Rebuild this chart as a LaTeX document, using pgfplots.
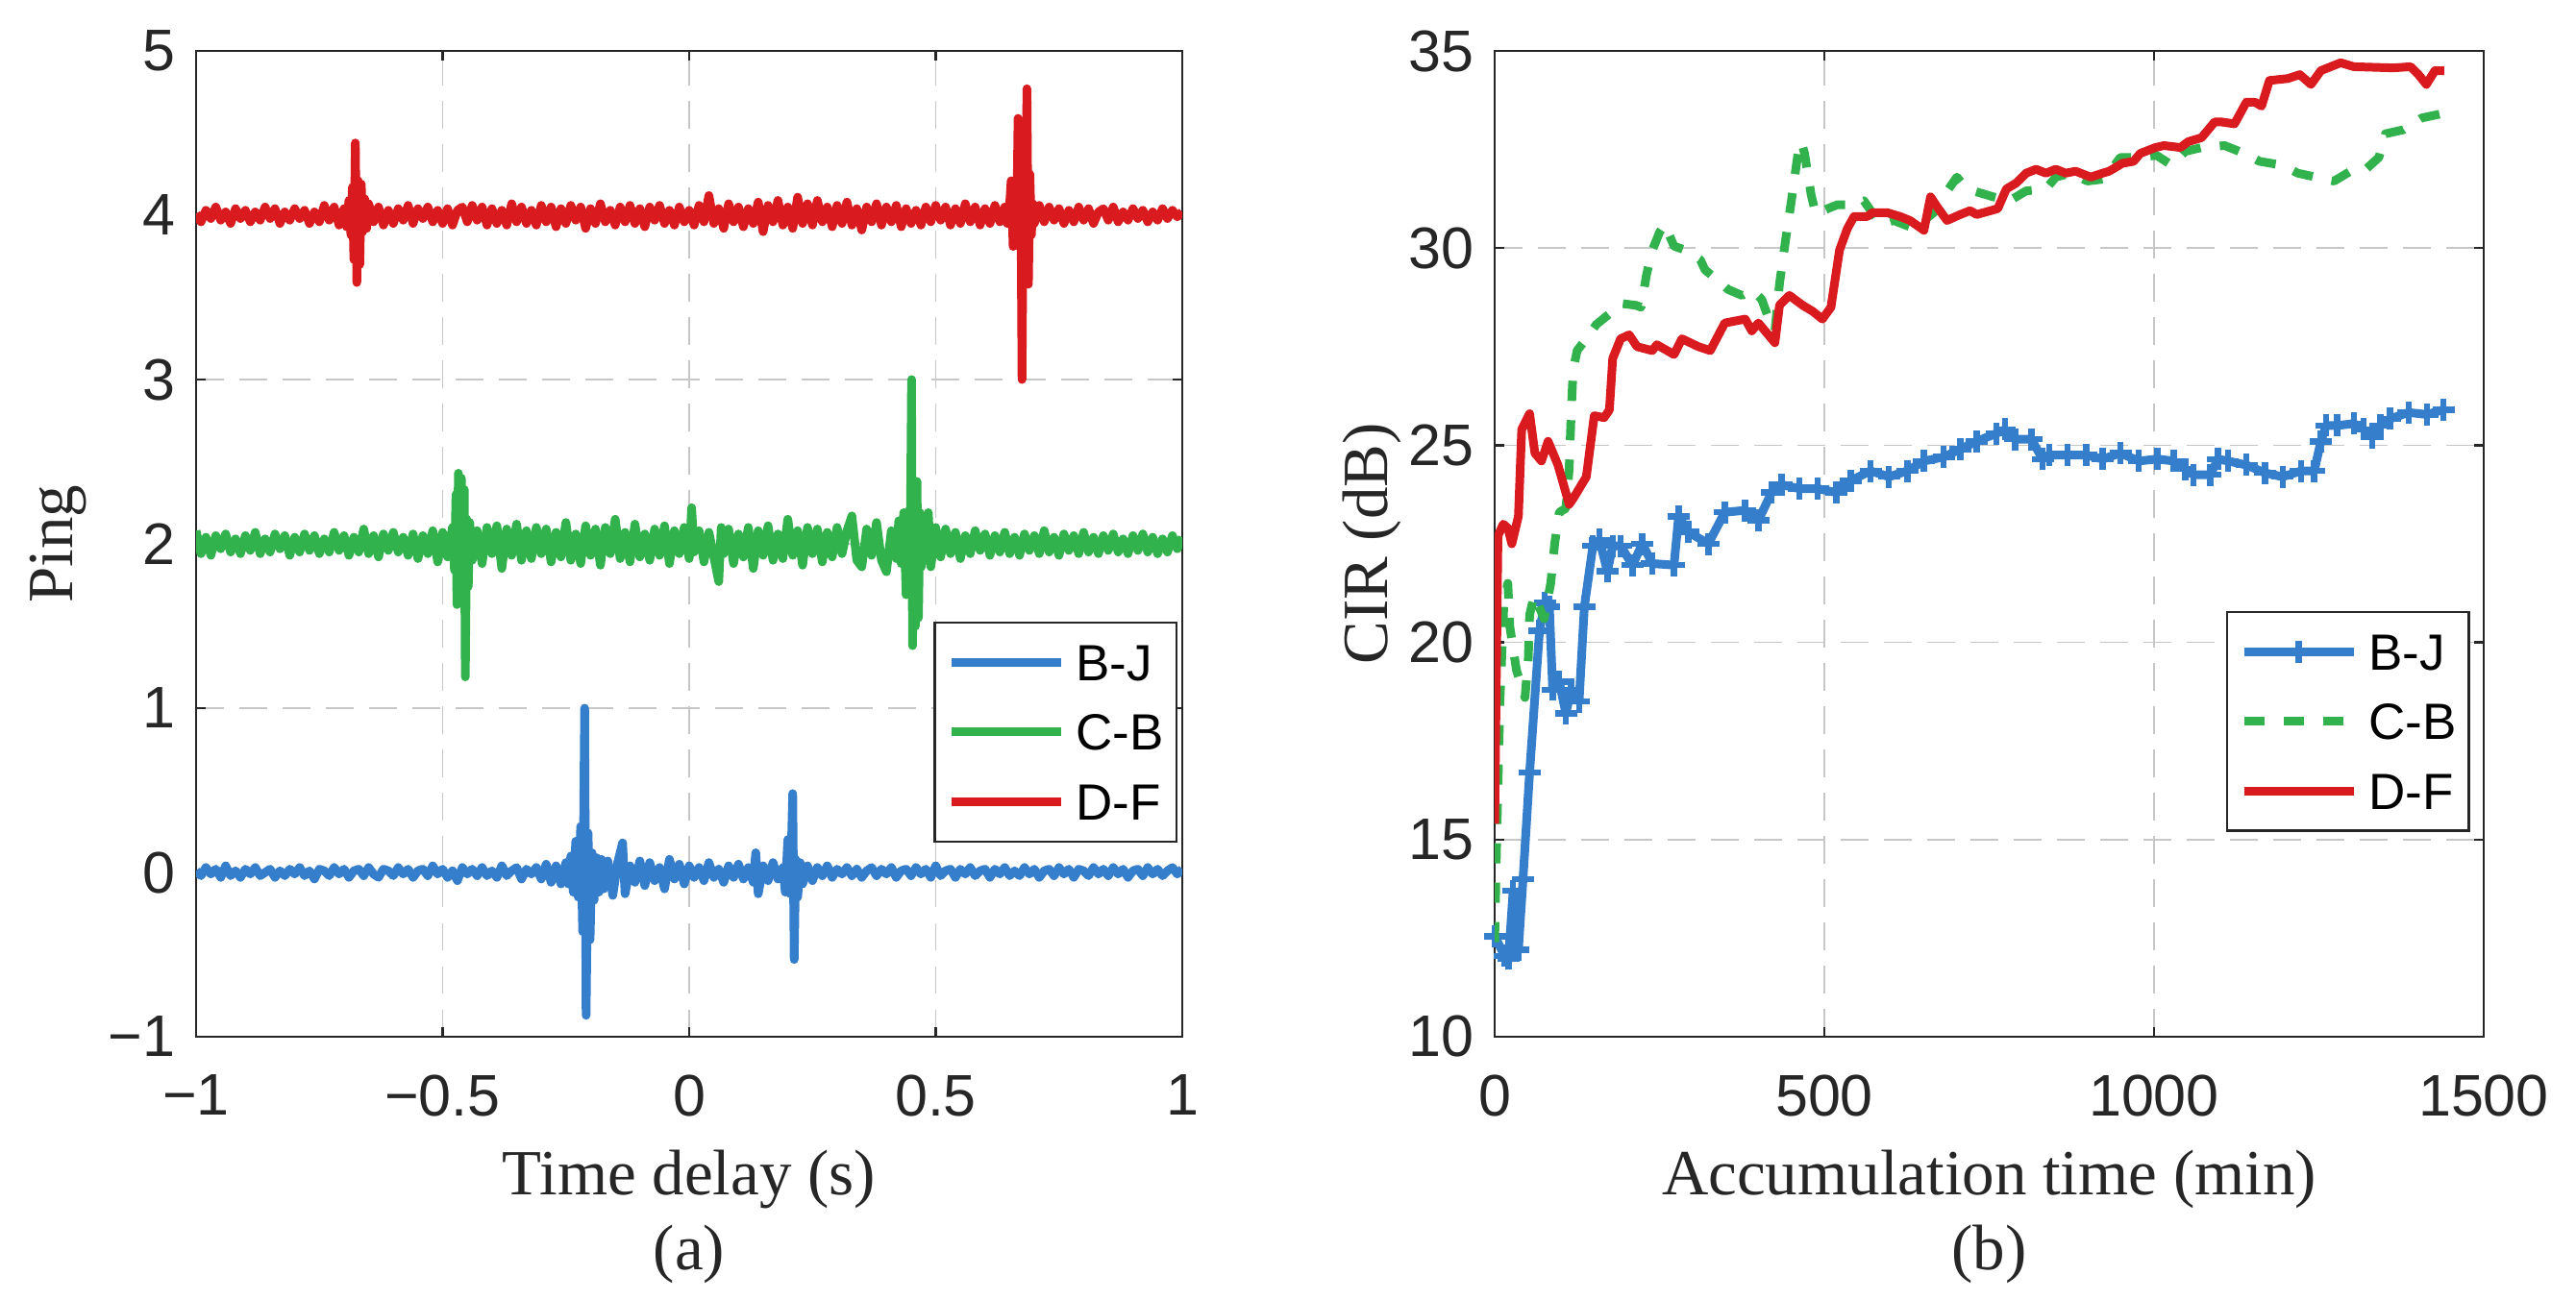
\documentclass[border=0pt]{standalone}
\usepackage{fontspec}
\setmainfont{Liberation Sans}
\newfontfamily\serifx{Liberation Serif}
\usepackage{pgfplots}
\usepackage{pgfplotstable}
\pgfplotsset{compat=1.18}
\definecolor{cblue}{RGB}{52,126,204}
\definecolor{cgreen}{RGB}{50,178,76}
\definecolor{cred}{RGB}{217,26,30}
\definecolor{axc}{RGB}{38,38,38}

\pgfplotstableread{
x y
-1.00 0.01
-0.99 -0.02
-0.98 0.03
-0.97 -0.01
-0.96 0.02
-0.95 -0.03
-0.94 0.04
-0.93 -0.02
-0.92 0.01
-0.91 -0.03
-0.90 0.02
-0.89 -0.01
-0.88 0.03
-0.87 -0.02
-0.86 0.00
-0.85 0.02
-0.84 -0.03
-0.83 0.01
-0.82 -0.02
-0.81 0.02
-0.80 -0.01
-0.79 0.03
-0.78 -0.02
-0.77 0.01
-0.76 -0.04
-0.75 0.02
-0.74 0.01
-0.73 -0.02
-0.72 0.03
-0.71 -0.01
-0.70 0.02
-0.69 -0.03
-0.68 0.01
-0.67 0.02
-0.66 -0.02
-0.65 0.03
-0.64 -0.01
-0.63 -0.03
-0.62 0.02
-0.61 0.01
-0.60 -0.02
-0.59 0.03
-0.58 -0.01
-0.57 0.02
-0.56 -0.03
-0.55 0.01
-0.54 0.02
-0.53 -0.02
-0.52 0.04
-0.51 -0.01
-0.50 0.02
-0.49 -0.03
-0.48 0.01
-0.47 -0.05
-0.46 0.03
-0.45 -0.01
-0.44 0.02
-0.43 -0.02
-0.42 0.03
-0.41 -0.02
-0.40 0.01
-0.39 -0.03
-0.38 0.04
-0.37 -0.02
-0.36 0.01
-0.35 0.03
-0.34 -0.04
-0.33 0.02
-0.32 -0.01
-0.31 0.03
-0.30 -0.04
-0.29 0.05
-0.28 -0.06
-0.27 0.04
-0.26 -0.07
-0.25 0.06
-0.245 -0.07
-0.24 0.10
-0.235 -0.12
-0.23 0.19
-0.225 -0.15
-0.22 0.28
-0.216 -0.36
-0.212 1.00
-0.209 -0.87
-0.205 0.24
-0.201 -0.41
-0.197 0.12
-0.193 -0.17
-0.188 0.09
-0.183 -0.12
-0.178 0.08
-0.173 -0.10
-0.165 0.07
-0.155 -0.14
-0.145 0.06
-0.135 0.18
-0.13 -0.13
-0.12 0.04
-0.11 -0.06
-0.10 0.07
-0.09 -0.08
-0.08 0.06
-0.07 -0.05
-0.06 0.03
-0.05 -0.10
-0.04 0.08
-0.03 -0.04
-0.02 0.05
-0.01 -0.07
0.00 0.04
0.01 -0.03
0.02 0.03
0.03 -0.05
0.04 0.06
0.05 -0.03
0.06 0.02
0.07 -0.06
0.08 0.04
0.09 -0.03
0.10 0.05
0.11 -0.04
0.12 0.03
0.13 -0.06
0.135 0.12
0.14 -0.13
0.15 0.04
0.16 -0.05
0.17 0.06
0.18 -0.04
0.19 0.03
0.195 -0.12
0.20 0.20
0.205 -0.13
0.21 0.48
0.213 -0.53
0.216 0.08
0.22 -0.15
0.225 0.06
0.23 -0.07
0.24 0.04
0.25 -0.05
0.26 0.03
0.27 -0.02
0.28 0.04
0.29 -0.03
0.30 0.02
0.31 -0.01
0.32 0.03
0.33 -0.02
0.34 0.02
0.35 -0.03
0.36 0.01
0.37 0.03
0.38 -0.02
0.39 0.02
0.40 -0.01
0.41 0.03
0.42 -0.03
0.43 0.01
0.44 0.02
0.45 -0.02
0.46 0.03
0.47 -0.01
0.48 0.02
0.49 -0.03
0.50 0.04
0.51 -0.02
0.52 0.01
0.53 0.02
0.54 -0.03
0.55 0.02
0.56 -0.01
0.57 0.03
0.58 -0.02
0.59 0.01
0.60 0.02
0.61 -0.03
0.62 0.02
0.63 -0.01
0.64 0.03
0.65 -0.02
0.66 0.01
0.67 -0.02
0.68 0.03
0.69 -0.01
0.70 0.02
0.71 -0.03
0.72 0.01
0.73 0.02
0.74 -0.02
0.75 0.03
0.76 -0.01
0.77 0.02
0.78 -0.03
0.79 0.02
0.80 0.01
0.81 -0.02
0.82 0.03
0.83 -0.01
0.84 0.02
0.85 -0.02
0.86 0.03
0.87 -0.01
0.88 0.02
0.89 -0.03
0.90 0.01
0.91 0.02
0.92 -0.02
0.93 0.03
0.94 -0.01
0.95 0.02
0.96 -0.02
0.97 0.01
0.98 0.03
0.99 -0.01
1.00 0.02
}\bj

\pgfplotstableread{
x y
-1.00 2.08
-0.99 1.94
-0.98 2.04
-0.97 1.93
-0.96 2.05
-0.95 1.97
-0.94 2.06
-0.93 1.95
-0.92 2.03
-0.91 1.94
-0.90 2.05
-0.89 1.96
-0.88 2.07
-0.87 1.94
-0.86 2.03
-0.85 1.95
-0.84 2.06
-0.83 1.97
-0.82 2.05
-0.81 1.93
-0.80 2.04
-0.79 1.95
-0.78 2.06
-0.77 1.96
-0.76 2.05
-0.75 1.94
-0.74 2.03
-0.73 1.95
-0.72 2.07
-0.71 1.96
-0.70 2.05
-0.69 1.93
-0.68 2.04
-0.67 1.95
-0.66 2.09
-0.65 1.94
-0.64 2.05
-0.63 1.92
-0.62 2.06
-0.61 1.96
-0.60 2.07
-0.59 1.95
-0.58 2.04
-0.57 1.93
-0.56 2.06
-0.55 1.91
-0.54 2.05
-0.53 1.94
-0.52 2.08
-0.51 1.89
-0.50 2.07
-0.49 1.92
-0.48 2.10
-0.476 1.84
-0.473 2.30
-0.471 1.63
-0.468 2.43
-0.465 1.65
-0.462 2.40
-0.459 1.80
-0.456 2.33
-0.454 1.19
-0.451 2.15
-0.448 1.74
-0.445 2.13
-0.44 1.90
-0.43 2.08
-0.42 1.88
-0.41 2.10
-0.40 1.94
-0.39 2.11
-0.38 1.85
-0.37 2.09
-0.36 1.93
-0.35 2.12
-0.34 1.90
-0.33 2.08
-0.32 1.91
-0.31 2.10
-0.30 1.94
-0.29 2.09
-0.28 1.89
-0.27 2.07
-0.26 1.92
-0.25 2.13
-0.24 1.90
-0.23 2.06
-0.22 1.88
-0.21 2.11
-0.20 1.93
-0.19 2.09
-0.18 1.87
-0.17 2.10
-0.16 1.94
-0.15 2.15
-0.14 1.91
-0.13 2.07
-0.12 1.89
-0.11 2.12
-0.10 1.92
-0.09 2.06
-0.08 1.90
-0.07 2.09
-0.06 1.93
-0.05 2.11
-0.04 1.88
-0.03 2.08
-0.02 1.94
-0.01 2.10
0.00 1.91
0.005 2.22
0.01 1.95
0.02 2.08
0.03 1.89
0.04 2.07
0.05 1.92
0.06 1.77
0.065 2.10
0.07 1.94
0.08 2.09
0.09 1.88
0.10 2.06
0.11 1.92
0.12 2.10
0.13 1.85
0.14 2.08
0.15 1.93
0.16 2.11
0.17 1.90
0.18 2.06
0.19 1.91
0.20 2.15
0.21 1.93
0.22 2.08
0.23 1.87
0.24 2.10
0.25 1.94
0.26 2.09
0.27 1.89
0.28 2.07
0.29 1.92
0.30 2.10
0.31 1.94
0.32 2.08
0.33 2.17
0.34 1.90
0.35 1.86
0.36 2.09
0.37 1.93
0.38 2.13
0.39 1.90
0.40 1.83
0.41 2.08
0.42 1.91
0.425 2.14
0.43 1.88
0.435 2.19
0.44 1.69
0.445 2.20
0.448 1.86
0.451 3.00
0.453 1.38
0.456 2.32
0.459 1.50
0.462 2.38
0.465 1.55
0.468 2.19
0.471 1.86
0.475 2.12
0.48 1.90
0.485 2.19
0.49 1.86
0.50 2.10
0.51 1.92
0.52 2.09
0.53 1.94
0.54 2.07
0.55 1.91
0.56 2.05
0.57 1.94
0.58 2.08
0.59 1.96
0.60 2.06
0.61 1.93
0.62 2.05
0.63 1.95
0.64 2.07
0.65 1.94
0.66 2.04
0.67 1.93
0.68 2.06
0.69 1.96
0.70 2.05
0.71 1.94
0.72 2.08
0.73 1.95
0.74 2.04
0.75 1.93
0.76 2.06
0.77 1.96
0.78 2.05
0.79 1.94
0.80 2.07
0.81 1.95
0.82 2.04
0.83 1.94
0.84 2.05
0.85 1.96
0.86 2.06
0.87 1.95
0.88 2.03
0.89 1.94
0.90 2.05
0.91 1.96
0.92 2.06
0.93 1.95
0.94 2.04
0.95 1.94
0.96 2.03
0.97 1.95
0.98 2.05
0.99 1.97
1.00 2.04
}\cb

\pgfplotstableread{
x y
-1.00 4.01
-0.99 3.96
-0.98 4.03
-0.97 3.98
-0.96 4.05
-0.95 3.97
-0.94 4.02
-0.93 3.95
-0.92 4.04
-0.91 3.98
-0.90 4.03
-0.89 3.96
-0.88 4.02
-0.87 3.97
-0.86 4.05
-0.85 3.98
-0.84 4.04
-0.83 3.95
-0.82 4.02
-0.81 3.97
-0.80 4.04
-0.79 3.98
-0.78 4.03
-0.77 3.95
-0.76 4.02
-0.75 3.96
-0.74 4.06
-0.73 3.97
-0.72 4.05
-0.71 3.94
-0.70 4.04
-0.695 3.93
-0.69 4.09
-0.686 3.88
-0.683 4.17
-0.680 3.73
-0.677 4.44
-0.674 3.59
-0.671 4.21
-0.668 3.70
-0.665 4.19
-0.662 3.90
-0.658 4.10
-0.654 3.92
-0.65 4.07
-0.64 3.96
-0.63 4.05
-0.62 3.94
-0.61 4.03
-0.60 3.95
-0.59 4.04
-0.58 3.97
-0.57 4.06
-0.56 3.95
-0.55 4.04
-0.54 3.98
-0.53 4.05
-0.52 3.96
-0.51 4.03
-0.50 3.95
-0.49 4.04
-0.48 3.94
-0.47 4.03
-0.46 4.05
-0.45 3.96
-0.44 4.06
-0.43 3.97
-0.42 4.05
-0.41 3.94
-0.40 4.04
-0.39 3.95
-0.38 4.03
-0.37 3.94
-0.36 4.07
-0.35 3.96
-0.34 4.05
-0.33 3.95
-0.32 4.03
-0.31 3.94
-0.30 4.06
-0.29 3.96
-0.28 4.05
-0.27 3.93
-0.26 4.04
-0.25 3.95
-0.24 4.06
-0.23 3.97
-0.22 4.05
-0.21 3.92
-0.20 4.04
-0.19 3.95
-0.18 4.07
-0.17 3.96
-0.16 4.03
-0.15 3.94
-0.14 4.05
-0.13 3.96
-0.12 4.06
-0.11 3.95
-0.10 4.04
-0.09 3.93
-0.08 4.05
-0.07 3.97
-0.06 4.06
-0.05 3.95
-0.04 4.03
-0.03 3.94
-0.02 4.05
-0.01 3.96
0.00 4.03
0.01 3.94
0.02 4.06
0.03 3.96
0.04 4.12
0.05 3.95
0.06 4.04
0.07 3.92
0.08 4.07
0.09 3.96
0.10 4.05
0.11 3.93
0.12 4.04
0.13 3.95
0.14 4.08
0.15 3.90
0.16 4.06
0.17 3.96
0.18 4.09
0.19 3.94
0.20 4.05
0.21 3.92
0.22 4.11
0.23 3.95
0.24 4.07
0.25 3.94
0.26 4.09
0.27 3.96
0.28 4.05
0.29 3.93
0.30 4.06
0.31 3.95
0.32 4.08
0.33 3.94
0.34 4.04
0.35 3.91
0.36 4.05
0.37 3.96
0.38 4.07
0.39 3.94
0.40 4.05
0.41 3.96
0.42 4.06
0.43 3.93
0.44 4.04
0.45 3.95
0.46 4.03
0.47 3.94
0.48 4.05
0.49 3.96
0.50 4.06
0.51 3.97
0.52 4.05
0.53 3.94
0.54 4.04
0.55 3.95
0.56 4.07
0.57 3.96
0.58 4.05
0.59 3.94
0.60 4.04
0.61 3.95
0.62 4.06
0.63 3.96
0.64 4.05
0.645 3.95
0.65 4.07
0.653 4.21
0.657 3.81
0.661 4.15
0.664 3.88
0.667 4.59
0.670 3.81
0.672 4.45
0.675 3.00
0.678 4.30
0.682 3.80
0.685 4.77
0.688 3.58
0.691 4.25
0.694 3.88
0.697 4.07
0.70 3.95
0.71 4.06
0.72 3.96
0.73 4.05
0.74 3.97
0.75 4.04
0.76 3.95
0.77 4.03
0.78 3.96
0.79 4.05
0.80 3.97
0.81 4.04
0.82 3.95
0.83 4.02
0.84 4.04
0.85 3.97
0.86 4.05
0.87 3.96
0.88 4.02
0.89 3.97
0.90 4.04
0.91 3.98
0.92 4.03
0.93 3.96
0.94 4.02
0.95 3.97
0.96 4.04
0.97 3.98
0.98 4.03
0.99 3.99
1.00 4.02
}\df

\pgfplotsset{
  mystyle/.style={
    scale only axis, width=205.2pt, height=205.2pt, anchor=south west,
    clip mode=individual,
    axis line style={draw=axc, line width=0.45pt},
    tick style={draw=axc, line width=0.45pt},
    tick align=inside, major tick length=2pt,
    grid=major,
    major grid style={draw=black!22, line width=0.35pt, dash pattern=on 5.7pt off 3.3pt},
    tick label style={font=\fontsize{12.2}{14}\selectfont, text=axc},
    xticklabel style={anchor=north, inner sep=0pt, yshift=-7.8pt},
    yticklabel style={anchor=east, inner sep=0pt, xshift=-4.2pt},
    label style={font=\serifx\fontsize{13.4}{16}\selectfont, text=axc},
    xlabel style={at={(axis description cs:0.5,-0.1603)}, anchor=base},
    legend cell align=left,
    legend style={draw=axc, line width=0.45pt, fill=white, anchor=north east,
      font=\fontsize{10.6}{12.7}\selectfont, inner xsep=2.6pt, inner ysep=1pt,
      row sep=0pt, column sep=2.2pt,
      nodes={inner xsep=0pt, inner ysep=1.85pt, text height=9.2pt, text depth=1.6pt}},
    legend image code/.code={\draw[mark repeat=2,mark phase=2,##1] plot coordinates {(0pt,0pt) (11.4pt,0pt) (22.8pt,0pt)};},
  }
}

\begin{document}
\begin{tikzpicture}
\useasboundingbox (0,0) rectangle (536pt,270.6pt);
\begin{axis}[mystyle, at={(40.8pt,54.8pt)},
  xmin=-1, xmax=1, ymin=-1, ymax=5,
  xtick={-1,-0.5,0,0.5,1}, xticklabels={−1,−0.5,0,0.5,1},
  ytick={-1,0,1,2,3,4,5}, yticklabels={−1,0,1,2,3,4,5},
  xlabel={Time delay (s)}, ylabel={Ping},
  ylabel style={at={(axis description cs:-0.1248,0.5)}, anchor=base},
  legend style={at={(axis description cs:0.995,0.421)}},
]
\addplot[cblue, line width=1.8pt, line join=round] table {\bj};
\addlegendentry{B-J}
\addplot[cgreen, line width=1.8pt, line join=round] table {\cb};
\addlegendentry{C-B}
\addplot[cred, line width=1.8pt, line join=round] table {\df};
\addlegendentry{D-F}
\node[font=\serifx\fontsize{13.4}{16}\selectfont, text=axc, anchor=base] at (axis description cs:0.5,-0.2359) {(a)};
\end{axis}

\begin{axis}[mystyle, at={(311pt,54.8pt)}, width=205.8pt,
  xmin=0, xmax=1500, ymin=10, ymax=35,
  xtick={0,500,1000,1500}, xticklabels={0,500,1000,1500},
  ytick={10,15,20,25,30,35}, yticklabels={10,15,20,25,30,35},
  xlabel={Accumulation time (min)}, ylabel={CIR (dB)},
  ylabel style={at={(axis description cs:-0.1088,0.5)}, anchor=base},
  legend style={at={(axis description cs:0.986,0.432)}},
]
\addplot[cblue, line width=1.8pt, line join=round, mark=+, mark size=2.3pt, mark options={solid, line width=1.3pt}] coordinates {
(0,12.55) (15,12.05) (21,11.98) (28,13.7) (36,12.2) (43,14.0) (53,16.7) (68,20.3) (76,21.0) (83,20.9) (88,18.8) (98,19.0) (108,18.2) (116,18.8) (128,18.5) (136,20.9) (149,22.45) (159,22.6) (171,21.8) (179,22.45) (191,22.45) (209,21.96) (224,22.5) (239,22.0) (272,21.96) (279,23.2) (294,22.8) (324,22.5) (349,23.3) (380,23.35) (400,23.1) (420,23.8) (435,24.0) (462,23.9) (490,23.9) (518,23.8) (540,24.1) (570,24.35) (598,24.2) (626,24.35) (651,24.6) (681,24.7) (706,24.9) (731,25.1) (761,25.3) (774,25.4) (789,25.15) (814,25.15) (831,24.65) (841,24.75) (869,24.75) (897,24.75) (922,24.65) (949,24.8) (977,24.6) (1005,24.65) (1030,24.6) (1047,24.4) (1060,24.25) (1085,24.25) (1097,24.65) (1112,24.6) (1140,24.5) (1168,24.3) (1195,24.2) (1223,24.35) (1243,24.35) (1253,25.1) (1261,25.5) (1278,25.5) (1303,25.55) (1318,25.4) (1331,25.2) (1343,25.5) (1358,25.67) (1386,25.83) (1414,25.78) (1439,25.9)
};
\addlegendentry{B-J}
\addplot[cgreen, line width=1.8pt, line join=round, dash pattern=on 4.2pt off 4pt] coordinates {
(0,12.4) (3,14.9) (8,18.5) (14,21.0) (20,21.5) (23,20.4) (33,19.3) (46,18.6) (51,19.6) (53,20.7) (60,21.2) (75,20.6) (85,21.5) (91,22.5) (98,23.3) (108,23.4) (113,24.4) (116,25.8) (119,26.9) (125,27.4) (139,27.7) (154,28.06) (179,28.4) (189,28.6) (214,28.55) (222,28.5) (230,29.3) (238,29.9) (250,30.4) (258,30.6) (272,30.05) (289,29.95) (312,29.7) (319,29.45) (344,29.1) (354,28.95) (375,28.8) (390,28.95) (405,28.7) (418,28.1) (425,27.9) (432,29.1) (442,30.3) (450,31.2) (460,32.4) (465,32.7) (470,32.4) (480,31.35) (487,30.86) (505,31.0) (520,31.1) (540,31.1) (560,31.2) (585,30.6) (605,30.7) (636,30.5) (666,30.9) (676,31.2) (701,31.8) (716,31.5) (756,31.3) (781,31.2) (806,31.45) (836,31.5) (851,31.8) (874,31.9) (899,31.7) (924,31.75) (949,32.3) (972,32.3) (1004,32.35) (1027,32.1) (1047,32.45) (1072,32.55) (1107,32.6) (1137,32.4) (1160,32.2) (1195,32.1) (1218,31.9) (1245,31.8) (1273,31.7) (1298,31.95) (1318,31.95) (1341,32.3) (1351,32.9) (1378,33.0) (1406,33.3) (1434,33.4) (1440,33.5)
};
\addlegendentry{C-B}
\addplot[cred, line width=1.8pt, line join=round] coordinates {
(0,15.4) (5,22.7) (13,23.0) (20,22.9) (26,22.5) (36,23.2) (41,25.4) (53,25.8) (61,24.8) (71,24.6) (81,25.1) (96,24.5) (113,23.5) (121,23.7) (139,24.2) (151,25.75) (166,25.7) (174,25.9) (179,27.2) (191,27.7) (204,27.8) (216,27.5) (239,27.4) (246,27.55) (272,27.3) (284,27.7) (309,27.5) (327,27.4) (349,28.1) (380,28.2) (390,27.9) (400,28.1) (425,27.6) (432,28.55) (447,28.8) (467,28.55) (482,28.4) (497,28.2) (510,28.5) (523,29.95) (535,30.5) (545,30.8) (565,30.8) (573,30.9) (595,30.9) (615,30.8) (630,30.7) (651,30.45) (661,31.3) (673,31.0) (686,30.7) (706,30.85) (721,30.95) (731,30.85) (763,31.0) (776,31.5) (791,31.65) (806,31.9) (821,32.0) (836,31.9) (851,32.0) (866,31.9) (881,31.95) (904,31.8) (922,31.9) (932,31.95) (952,32.15) (969,32.2) (979,32.4) (1002,32.55) (1015,32.6) (1040,32.55) (1052,32.7) (1072,32.8) (1092,33.2) (1102,33.2) (1122,33.15) (1140,33.7) (1153,33.7) (1163,33.6) (1175,34.25) (1203,34.3) (1221,34.4) (1238,34.15) (1253,34.5) (1283,34.7) (1303,34.6) (1363,34.57) (1389,34.6) (1401,34.4) (1413,34.15) (1426,34.5) (1440,34.5)
};
\addlegendentry{D-F}
\node[font=\serifx\fontsize{13.4}{16}\selectfont, text=axc, anchor=base] at (axis description cs:0.5,-0.2359) {(b)};
\end{axis}
\end{tikzpicture}
\end{document}
